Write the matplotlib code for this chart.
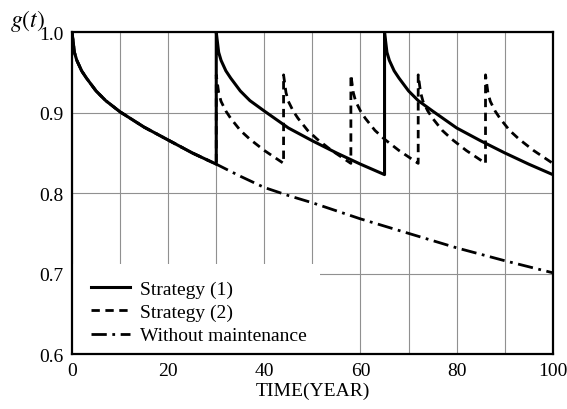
import matplotlib.pyplot as plt
from matplotlib.patches import Rectangle

# reliability without any maintenance
t_none = [0, 0.5, 1, 2, 3, 5, 7, 10, 15, 20, 25, 30, 35, 40, 45, 50, 60, 70, 80, 90, 100]
g_none = [1.0, 0.975, 0.965, 0.952, 0.943, 0.927, 0.915, 0.901, 0.882, 0.866, 0.850, 0.836,
          0.821, 0.807, 0.797, 0.788, 0.768, 0.750, 0.732, 0.716, 0.701]

# strategy (1): full renewal at year 30 and 65
t_s1 = [0, 0.5, 1, 2, 3, 5, 7, 10, 15, 20, 25, 30,
        30, 30.5, 31, 32, 33, 35, 37, 40, 45, 50, 55, 60, 65,
        65, 65.5, 66, 67, 68, 70, 72, 75, 80, 85, 90, 95, 100]
g_s1 = [1.0, 0.975, 0.965, 0.952, 0.943, 0.927, 0.915, 0.901, 0.882, 0.866, 0.850, 0.836,
        1.0, 0.975, 0.965, 0.952, 0.943, 0.927, 0.915, 0.902, 0.881, 0.865, 0.850, 0.836, 0.823,
        1.0, 0.975, 0.965, 0.952, 0.943, 0.927, 0.915, 0.902, 0.881, 0.865, 0.850, 0.836, 0.823]

# strategy (2): partial repair every 14 years from year 30
t_s2 = [0, 0.5, 1, 2, 3, 5, 7, 10, 15, 20, 25, 30,
        30, 30.5, 31, 32, 33, 35, 37, 40, 44,
        44, 44.5, 45, 46, 47, 49, 51, 54, 58,
        58, 58.5, 59, 60, 61, 63, 65, 68, 72,
        72, 72.5, 73, 74, 75, 77, 79, 82, 86,
        86, 86.5, 87, 88, 89, 91, 93, 96, 100]
g_s2 = [1.0, 0.975, 0.965, 0.952, 0.943, 0.927, 0.915, 0.901, 0.882, 0.866, 0.850, 0.836,
        0.947, 0.925, 0.914, 0.902, 0.893, 0.878, 0.867, 0.853, 0.837,
        0.947, 0.925, 0.914, 0.902, 0.893, 0.878, 0.867, 0.853, 0.837,
        0.947, 0.925, 0.914, 0.902, 0.893, 0.878, 0.867, 0.853, 0.837,
        0.947, 0.925, 0.914, 0.902, 0.893, 0.878, 0.867, 0.853, 0.837,
        0.947, 0.925, 0.914, 0.902, 0.893, 0.878, 0.867, 0.853, 0.837]

x_ticks = [0, 20, 40, 60, 80, 100]
y_ticks = [0.6, 0.7, 0.8, 0.9, 1.0]

plt.rcParams['font.family'] = ['Liberation Serif', 'DejaVu Serif']
plt.rcParams['mathtext.fontset'] = 'stix'

fig = plt.figure(figsize=(5.67, 4.10), dpi=100)
ax = fig.add_axes([0.127, 0.134, 0.848, 0.785])

ax.plot(t_none, g_none, color='black', lw=2.0, dashes=(5.5, 2, 1, 2),
        label='Without maintenance', zorder=3)
ax.plot(t_s2, g_s2, color='black', lw=2.0, dashes=(3, 2),
        label='Strategy (2)', zorder=4)
ax.plot(t_s1, g_s1, color='black', lw=2.2, label='Strategy (1)', zorder=5)

ax.set_xlim(0, 100)
ax.set_ylim(0.6, 1.0)
ax.set_xticks(x_ticks)
ax.set_yticks(y_ticks)
ax.set_xticks(range(0, 101, 10), minor=True)
ax.set_yticklabels(['%.1f' % v for v in y_ticks])
ax.tick_params(which='both', length=0, labelsize=14, pad=6)
ax.grid(True, which='both', color='#909090', lw=0.8)
ax.set_axisbelow(True)
for s in ax.spines.values():
    s.set_linewidth(1.6)

# blank area behind the legend
ax.add_patch(Rectangle((0, 0.6), 51.6, 0.112, facecolor='white', edgecolor='none', zorder=1.5))

h, l = ax.get_legend_handles_labels()
order = [2, 1, 0]
ax.legend([h[i] for i in order], [l[i] for i in order], loc='lower left',
          bbox_to_anchor=(0.02, 0.0), frameon=False, fontsize=14,
          handlelength=2.0, handletextpad=0.5, labelspacing=0.28, borderpad=0)

ax.set_xlabel('TIME(YEAR)', fontsize=14, labelpad=2)
fig.text(0.018, 0.935, '$g(t)$', fontsize=17)

fig.savefig('out.png', dpi=100)
